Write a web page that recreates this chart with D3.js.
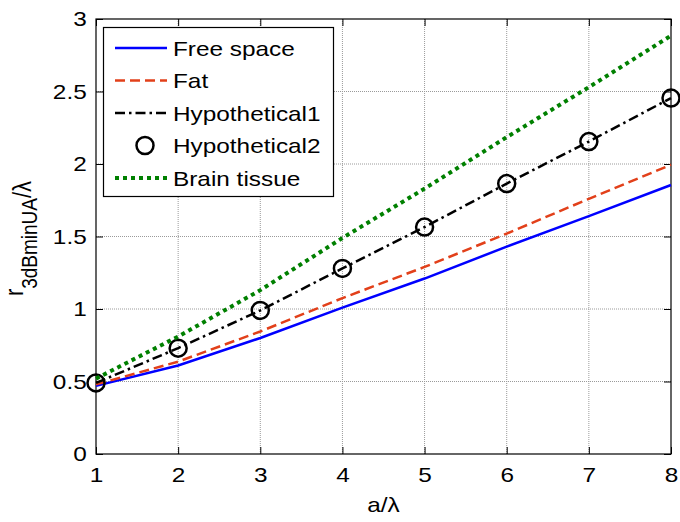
<!DOCTYPE html>
<meta charset="utf-8" />
<style>
  body {
    margin: 0px;
    padding: 0px;
    background: #fff;
  }
  svg {
    display: block;
    font-family: "Liberation Sans", Arial, sans-serif;
  }
  .grid line {
    stroke: #9a9a9a;
    stroke-width: 1px;
    stroke-dasharray: 1, 1;
  }
  .axis text {
    font-size: 21px;
    fill: #000;
  }
  .axis line {
    stroke: #000;
  }
</style>

<svg width="680" height="522"></svg>

<script src="https://d3js.org/d3.v7.min.js"></script>
<script>
  // values
  const aOverLambda = [1, 2, 3, 4, 5, 6, 7, 8];
  const freeSpace = [0.47, 0.61, 0.8, 1.01, 1.21, 1.43, 1.64, 1.855];
  const fat = [0.48, 0.637, 0.845, 1.075, 1.29, 1.52, 1.76, 1.995];
  const hypothetical1 = [0.49, 0.73, 0.99, 1.28, 1.565, 1.865, 2.155, 2.455];
  const hypothetical2 = [0.49, 0.73, 0.99, 1.28, 1.565, 1.865, 2.155, 2.455];
  const brainTissue = [0.52, 0.81, 1.13, 1.49, 1.83, 2.185, 2.53, 2.885];

  const xTicks = [1, 2, 3, 4, 5, 6, 7, 8];
  const yTicks = [0, 0.5, 1, 1.5, 2, 2.5, 3];

  const svg = d3.select("svg"),
    width = +svg.attr("width"),
    height = +svg.attr("height");

  const margin = { top: 19, right: 9, bottom: 68, left: 96 };
  const sx = 1.16; // text in the picture is a bit wider than plain Arial

  const x = d3.scaleLinear().domain([1, 8]).range([margin.left, width - margin.right]);
  const y = d3.scaleLinear().domain([0, 3]).range([height - margin.bottom, margin.top]);

  //grid
  const grid = svg.append("g").attr("class", "grid");
  grid
    .selectAll("line.v")
    .data(xTicks.slice(1, -1))
    .enter()
    .append("line")
    .attr("x1", (d) => x(d))
    .attr("x2", (d) => x(d))
    .attr("y1", y(0))
    .attr("y2", y(3));
  grid
    .selectAll("line.h")
    .data(yTicks.slice(1, -1))
    .enter()
    .append("line")
    .attr("x1", x(1))
    .attr("x2", x(8))
    .attr("y1", (d) => y(d))
    .attr("y2", (d) => y(d));

  //axes, ticks point inward on all four sides
  const noDomain = (g) => g.select(".domain").remove();

  svg
    .append("g")
    .attr("class", "axis")
    .attr("transform", `translate(0,${y(0)})`)
    .call(d3.axisBottom(x).tickValues(xTicks).tickSize(-7).tickPadding(13).tickFormat(d3.format("d")))
    .call(noDomain)
    .selectAll("text")
    .attr("transform", `scale(${sx},1)`);

  svg
    .append("g")
    .attr("class", "axis")
    .attr("transform", `translate(0,${y(3)})`)
    .call(d3.axisTop(x).tickValues(xTicks).tickSize(-7).tickFormat(""))
    .call(noDomain);

  svg
    .append("g")
    .attr("class", "axis")
    .attr("transform", `translate(${x(1)},0)`)
    .call(d3.axisLeft(y).tickValues(yTicks).tickSize(-7).tickPadding(8).tickFormat((d) => String(d)))
    .call(noDomain)
    .selectAll("text")
    .attr("transform", `scale(${sx},1)`);

  svg
    .append("g")
    .attr("class", "axis")
    .attr("transform", `translate(${x(8)},0)`)
    .call(d3.axisRight(y).tickValues(yTicks).tickSize(-7).tickFormat(""))
    .call(noDomain);

  svg
    .append("rect")
    .attr("x", x(1))
    .attr("y", y(3))
    .attr("width", x(8) - x(1))
    .attr("height", y(0) - y(3))
    .attr("fill", "none")
    .attr("stroke", "#000")
    .attr("stroke-width", 1.2);

  //series
  const series = [
    { name: "Free space", values: freeSpace, color: "#0000ff", width: 2.5, dash: null, line: true },
    { name: "Fat", values: fat, color: "#e2401a", width: 2.5, dash: "10,5", line: true },
    { name: "Hypothetical1", values: hypothetical1, color: "#000", width: 2.5, dash: "10,4,2.5,4", line: true },
    { name: "Hypothetical2", values: hypothetical2, color: "#000", width: 2.5, dash: null, line: false, marker: true },
    { name: "Brain tissue", values: brainTissue, color: "#008000", width: 4, dash: "4,4", line: true },
  ];

  const line = d3
    .line()
    .x((d, i) => x(aOverLambda[i]))
    .y((d) => y(d));

  const plot = svg.append("g");

  series.forEach((s) => {
    if (s.line) {
      plot
        .append("path")
        .datum(s.values)
        .attr("d", line)
        .attr("fill", "none")
        .attr("stroke", s.color)
        .attr("stroke-width", s.width)
        .attr("stroke-dasharray", s.dash);
    }
    if (s.marker) {
      plot
        .selectAll(null)
        .data(s.values)
        .enter()
        .append("circle")
        .attr("cx", (d, i) => x(aOverLambda[i]))
        .attr("cy", (d) => y(d))
        .attr("r", 8.5)
        .attr("fill", "none")
        .attr("stroke", s.color)
        .attr("stroke-width", 2.5);
    }
  });

  //axis labels
  svg
    .append("text")
    .attr("transform", `translate(${(x(1) + x(8)) / 2},512) scale(${sx},1)`)
    .attr("text-anchor", "middle")
    .attr("font-size", 21)
    .text("a/λ");

  const ylab = svg
    .append("text")
    .attr("transform", `translate(31,${(y(0) + y(3)) / 2 + 2}) rotate(-90) scale(1,${sx})`)
    .attr("text-anchor", "middle")
    .attr("font-size", 22);
  ylab.append("tspan").attr("dy", -7).text("r");
  ylab.append("tspan").attr("dy", 12).attr("font-size", 19).text("3dBminUA");
  ylab.append("tspan").attr("dy", -5).text("/λ");

  //legend
  const legend = svg.append("g");
  legend
    .append("rect")
    .attr("x", 103.5)
    .attr("y", 27.5)
    .attr("width", 230)
    .attr("height", 169)
    .attr("fill", "#fff")
    .attr("stroke", "#000")
    .attr("stroke-width", 1.2);

  const rowY = (i) => 48 + i * 32.5;

  series.forEach((s, i) => {
    const cy = rowY(i);
    if (s.line) {
      legend
        .append("line")
        .attr("x1", 115)
        .attr("x2", 167)
        .attr("y1", cy)
        .attr("y2", cy)
        .attr("stroke", s.color)
        .attr("stroke-width", s.width)
        .attr("stroke-dasharray", s.dash);
    }
    if (s.marker) {
      legend
        .append("circle")
        .attr("cx", 145)
        .attr("cy", cy)
        .attr("r", 8.5)
        .attr("fill", "none")
        .attr("stroke", s.color)
        .attr("stroke-width", 2.5);
    }
    legend
      .append("text")
      .attr("transform", `translate(173,${cy + 7.5}) scale(${sx},1)`)
      .attr("font-size", 21)
      .text(s.name);
  });
</script>
